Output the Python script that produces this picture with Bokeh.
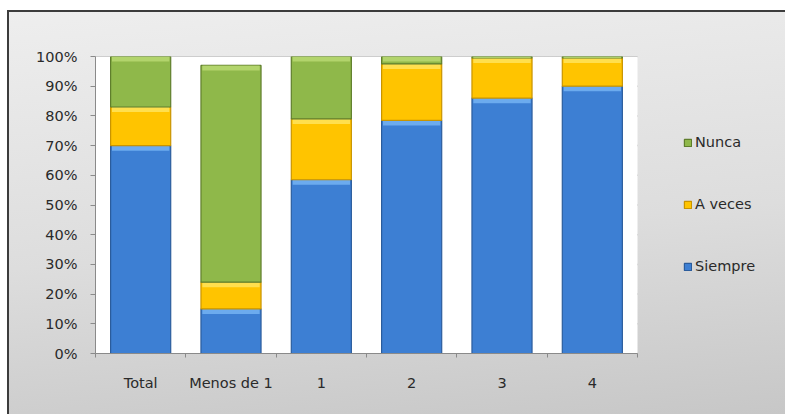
import numpy as np
from bokeh.plotting import figure
from bokeh.models import (ColumnDataSource, Range1d, FixedTicker, PrintfTickFormatter,
                          Legend, LegendItem, BoxAnnotation)
from bokeh.embed import file_html
from bokeh.resources import INLINE

# Share of answers (%) per group
categories = ["Total", "Menos de 1", "1", "2", "3", "4"]
siempre = [70, 15, 58.5, 78.5, 86, 90]
a_veces = [13, 9, 20.5, 19, 13.5, 9.5]
nunca = [17, 73, 21, 2.5, 0.5, 0.5]
y_ticks = list(range(0, 101, 10))

series_names = ["Siempre", "A veces", "Nunca"]
fill_colors = ["#3d7fd3", "#ffc400", "#8fb84a"]
edge_colors = ["#2b5c9c", "#c99400", "#5f7e2c"]
light_colors = ["#74b3f2", "#ffe45c", "#b8d872"]

FONT = "DejaVu Sans"
n = len(categories)
x = np.arange(1, n + 1)

# the frame runs to the right edge so the legend can sit beside the bars;
# the bar area itself is 542 px wide out of a 690 px frame
PLOT_W, FRAME_W = 542, 690
x_lo, x_hi = 0.5, n + 0.5
x_end = x_lo + n * FRAME_W / PLOT_W

p = figure(width=778, height=404, output_backend="svg", toolbar_location=None,
           x_range=Range1d(x_lo, x_end), y_range=Range1d(0, 100),
           min_border_left=88, min_border_right=0, min_border_top=46, min_border_bottom=61,
           margin=(10, 0, 0, 7))
p.border_fill_color = None
p.background_fill_color = None
p.outline_line_color = None
p.styles = {"background": "linear-gradient(175deg, #eeeeee 0%, #dddddd 55%, #c7c7c7 100%)",
            "box-shadow": "inset 2px 2px 0 0 #3c3c3c",
            "border": "none", "outline": "none", "overflow": "hidden"}

# white plot area behind the bars
p.add_layout(BoxAnnotation(left=x_lo, right=x_hi, bottom=0, top=100,
                           fill_color="white", fill_alpha=1, line_color=None, level="underlay"))

# horizontal gridlines across the bar area only
p.segment(x0=[x_lo] * len(y_ticks), x1=[x_hi] * len(y_ticks), y0=y_ticks, y1=y_ticks,
          line_color="#8f8f8f", line_width=1.5, level="underlay")
p.xgrid.grid_line_color = None
p.ygrid.grid_line_color = None

# y axis: 0% .. 100%
p.yaxis.ticker = FixedTicker(ticks=y_ticks, minor_ticks=[])
p.yaxis.formatter = PrintfTickFormatter(format="%d%%")
p.yaxis.axis_line_color = "#8a8a8a"
p.yaxis.major_tick_line_color = "#8a8a8a"
p.yaxis.major_tick_out = 5
p.yaxis.major_tick_in = 0
p.yaxis.major_label_standoff = 13
p.yaxis.major_label_text_font = FONT
p.yaxis.major_label_text_font_size = "14.5px"
p.yaxis.major_label_text_color = "#2a2a2a"

# x axis: labels at the bar centres, ticks between groups
p.xaxis.bounds = (x_lo, x_hi)
p.xaxis.ticker = FixedTicker(ticks=list(x), minor_ticks=list(np.arange(x_lo, x_hi + 0.5, 1.0)))
p.xaxis.major_label_overrides = {int(v): c for v, c in zip(x, categories)}
p.xaxis.axis_line_color = "#8a8a8a"
p.xaxis.major_tick_line_color = None
p.xaxis.minor_tick_line_color = "#8a8a8a"
p.xaxis.minor_tick_out = 4
p.xaxis.minor_tick_in = 0
p.xaxis.major_label_standoff = 15
p.xaxis.major_label_text_font = FONT
p.xaxis.major_label_text_font_size = "14.5px"
p.xaxis.major_label_text_color = "#2a2a2a"

# stacked segments
values = [np.array(siempre, float), np.array(a_veces, float), np.array(nunca, float)]
bottom = np.zeros(n)
renderers = {}
BAR_W = 0.665
for name, vals, fc, ec, lc in zip(series_names, values, fill_colors, edge_colors, light_colors):
    top = bottom + vals
    src = ColumnDataSource(dict(x=x, bottom=bottom.copy(), top=top,
                                hl_bottom=top - np.minimum(vals, 1.7)))
    r = p.vbar(x="x", bottom="bottom", top="top", width=BAR_W, source=src,
               fill_color=fc, line_color=ec, line_width=1.2)
    # bevel highlight along the top edge of each segment
    p.vbar(x="x", bottom="hl_bottom", top="top", width=BAR_W - 0.03, source=src,
           fill_color=lc, fill_alpha=0.85, line_color=None)
    renderers[name] = r
    bottom = top

legend = Legend(items=[LegendItem(label=s, renderers=[renderers[s]]) for s in ["Nunca", "A veces", "Siempre"]],
                location=(PLOT_W + 46, 77), orientation="vertical")
legend.background_fill_alpha = 0
legend.border_line_color = None
legend.padding = 0
legend.margin = 0
legend.glyph_width = 9
legend.glyph_height = 9
legend.label_height = 20
legend.spacing = 42
legend.label_standoff = 3
legend.label_text_font = FONT
legend.label_text_font_size = "14.5px"
legend.label_text_color = "#2a2a2a"
p.add_layout(legend, "center")

open("out.html", "w").write(file_html(p, INLINE))
